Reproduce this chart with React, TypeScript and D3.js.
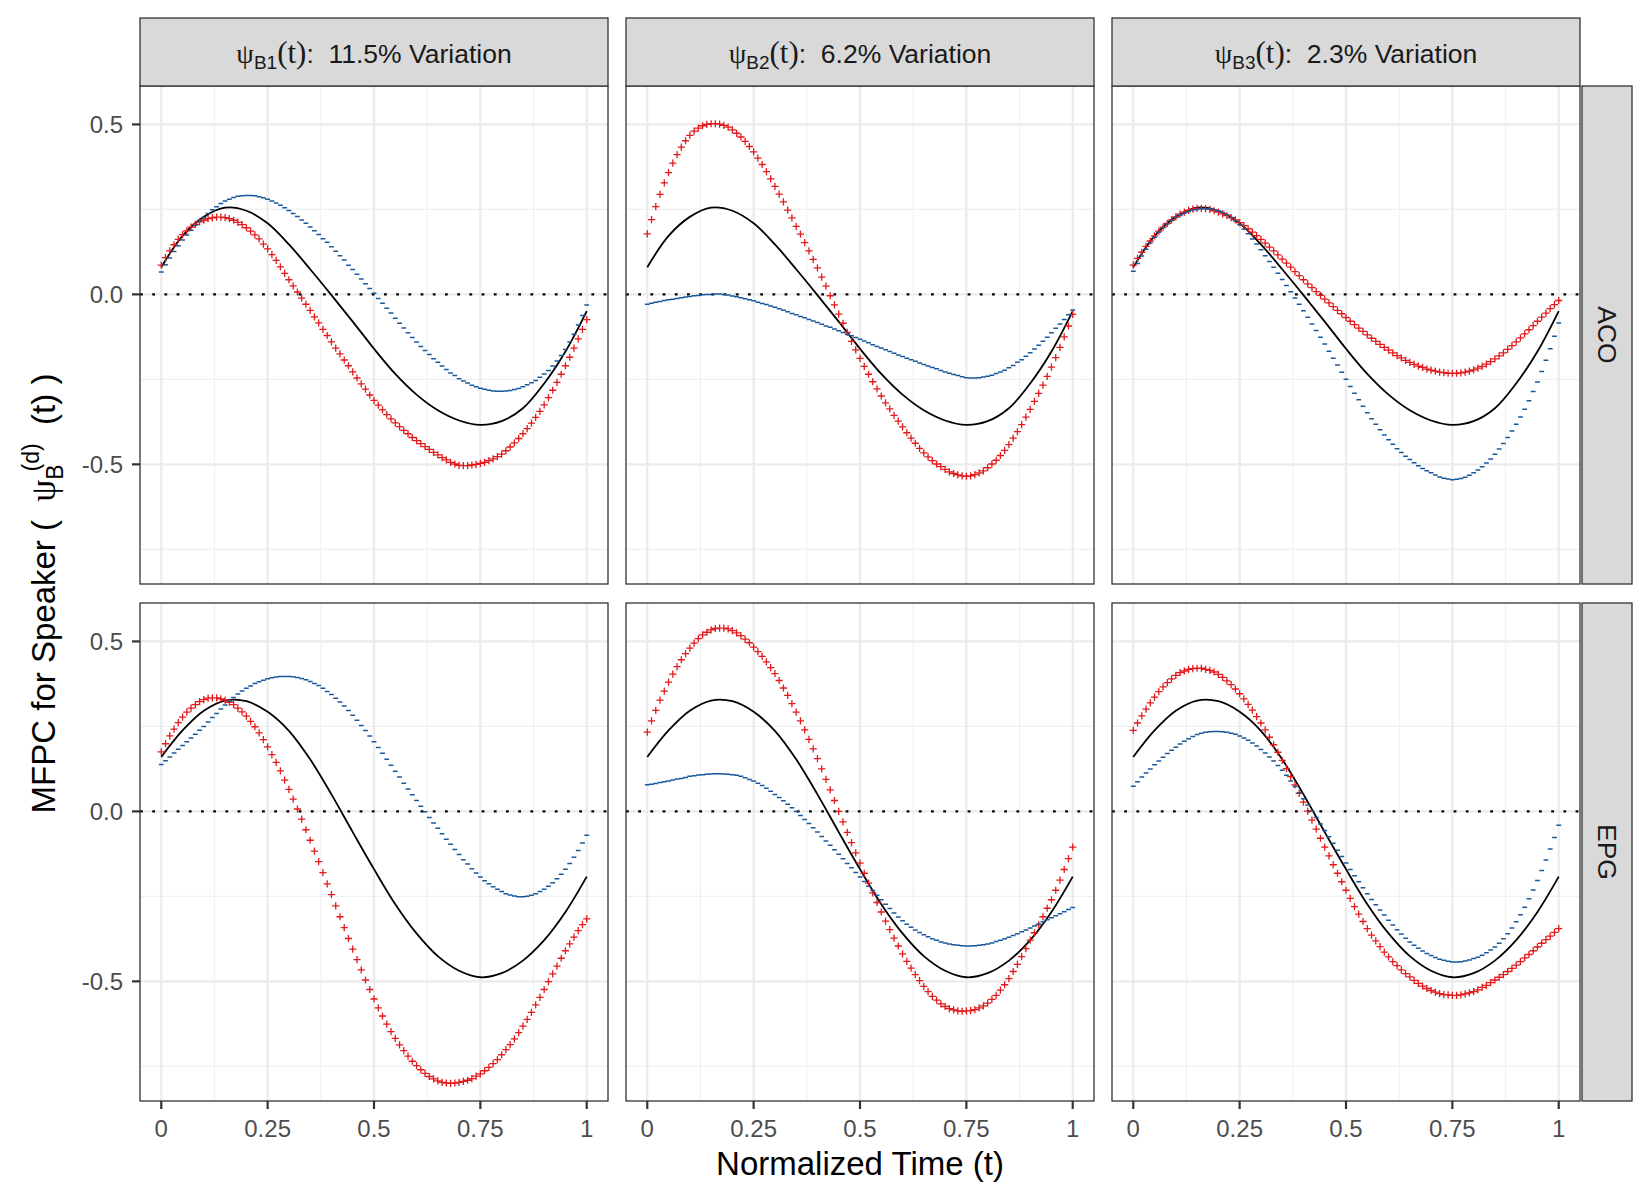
import React from 'react';
import * as d3 from 'd3';

// evaluation grids of the functions (101 points for the +/- curves, 21 knots for the mean)
const T101 = d3.range(101).map((i) => i / 100);
const T21 = d3.range(21).map((i) => i / 20);

// mean curves (black), one per row
const ACO_MEAN = [0.080, 0.172, 0.228, 0.255, 0.246, 0.209, 0.147, 0.074, -0.002, -0.080, -0.160, -0.234, -0.295, -0.341, -0.371, -0.384, -0.373, -0.335, -0.262, -0.168, -0.049];
const EPG_MEAN = [0.160, 0.238, 0.296, 0.326, 0.324, 0.293, 0.237, 0.153, 0.050, -0.061, -0.170, -0.273, -0.359, -0.426, -0.469, -0.488, -0.476, -0.439, -0.379, -0.296, -0.192];

// mean + component (red "+")
const ACO_B1_PLUS = [
  0.086, 0.108, 0.128, 0.146, 0.162, 0.176, 0.187, 0.198, 0.206, 0.213,
  0.218, 0.223, 0.225, 0.227, 0.227, 0.226, 0.223, 0.218, 0.212, 0.205,
  0.196, 0.186, 0.175, 0.163, 0.148, 0.134, 0.117, 0.100, 0.081, 0.062,
  0.043, 0.025, 0.007, -0.011, -0.029, -0.047, -0.066, -0.084, -0.103, -0.121,
  -0.140, -0.158, -0.175, -0.193, -0.210, -0.228, -0.246, -0.263, -0.279, -0.296,
  -0.312, -0.326, -0.340, -0.354, -0.366, -0.378, -0.389, -0.400, -0.410, -0.421,
  -0.430, -0.439, -0.448, -0.456, -0.465, -0.472, -0.480, -0.487, -0.494, -0.499,
  -0.503, -0.504, -0.504, -0.502, -0.500, -0.497, -0.494, -0.489, -0.484, -0.477,
  -0.470, -0.460, -0.449, -0.437, -0.424, -0.410, -0.395, -0.379, -0.362, -0.344,
  -0.325, -0.304, -0.282, -0.259, -0.235, -0.210, -0.185, -0.158, -0.131, -0.103,
  -0.074,
];
const ACO_B2_PLUS = [
  0.178, 0.220, 0.258, 0.294, 0.328, 0.358, 0.386, 0.411, 0.433, 0.452,
  0.468, 0.480, 0.489, 0.496, 0.500, 0.502, 0.502, 0.501, 0.497, 0.492,
  0.484, 0.474, 0.463, 0.450, 0.435, 0.419, 0.401, 0.382, 0.361, 0.340,
  0.318, 0.295, 0.272, 0.248, 0.225, 0.200, 0.177, 0.152, 0.128, 0.103,
  0.078, 0.051, 0.024, -0.004, -0.031, -0.058, -0.085, -0.112, -0.138, -0.163,
  -0.188, -0.212, -0.235, -0.257, -0.278, -0.299, -0.319, -0.337, -0.356, -0.373,
  -0.390, -0.407, -0.423, -0.438, -0.453, -0.466, -0.478, -0.489, -0.499, -0.507,
  -0.515, -0.522, -0.527, -0.531, -0.534, -0.535, -0.534, -0.530, -0.525, -0.519,
  -0.510, -0.499, -0.488, -0.474, -0.459, -0.442, -0.423, -0.404, -0.383, -0.361,
  -0.338, -0.315, -0.291, -0.267, -0.241, -0.214, -0.186, -0.156, -0.125, -0.093,
  -0.059,
];
const ACO_B3_PLUS = [
  0.086, 0.106, 0.124, 0.141, 0.157, 0.172, 0.186, 0.198, 0.209, 0.219,
  0.228, 0.236, 0.242, 0.247, 0.251, 0.253, 0.253, 0.252, 0.250, 0.246,
  0.242, 0.237, 0.232, 0.226, 0.219, 0.211, 0.202, 0.193, 0.183, 0.173,
  0.162, 0.151, 0.139, 0.128, 0.116, 0.104, 0.092, 0.080, 0.067, 0.055,
  0.043, 0.031, 0.020, 0.008, -0.003, -0.014, -0.025, -0.036, -0.047, -0.057,
  -0.068, -0.079, -0.089, -0.099, -0.109, -0.119, -0.129, -0.138, -0.147, -0.156,
  -0.164, -0.172, -0.180, -0.187, -0.194, -0.200, -0.206, -0.211, -0.215, -0.220,
  -0.223, -0.226, -0.229, -0.230, -0.232, -0.232, -0.232, -0.231, -0.229, -0.226,
  -0.222, -0.217, -0.212, -0.205, -0.198, -0.190, -0.181, -0.172, -0.162, -0.151,
  -0.140, -0.128, -0.116, -0.104, -0.092, -0.079, -0.067, -0.055, -0.042, -0.030,
  -0.018,
];
const EPG_B1_PLUS = [
  0.175, 0.199, 0.222, 0.242, 0.261, 0.277, 0.292, 0.304, 0.314, 0.323,
  0.329, 0.333, 0.334, 0.334, 0.331, 0.327, 0.321, 0.314, 0.304, 0.293,
  0.280, 0.265, 0.249, 0.231, 0.211, 0.190, 0.167, 0.144, 0.119, 0.092,
  0.065, 0.036, 0.007, -0.023, -0.054, -0.085, -0.117, -0.148, -0.180, -0.213,
  -0.245, -0.278, -0.310, -0.342, -0.374, -0.405, -0.436, -0.466, -0.496, -0.524,
  -0.552, -0.578, -0.602, -0.626, -0.648, -0.668, -0.687, -0.704, -0.720, -0.735,
  -0.748, -0.760, -0.771, -0.780, -0.787, -0.793, -0.797, -0.799, -0.800, -0.799,
  -0.797, -0.794, -0.791, -0.786, -0.779, -0.772, -0.763, -0.753, -0.742, -0.730,
  -0.716, -0.701, -0.686, -0.669, -0.651, -0.632, -0.612, -0.591, -0.569, -0.547,
  -0.524, -0.501, -0.478, -0.455, -0.432, -0.410, -0.390, -0.370, -0.351, -0.333,
  -0.316,
];
const EPG_B2_PLUS = [
  0.233, 0.266, 0.297, 0.327, 0.354, 0.380, 0.404, 0.426, 0.446, 0.464,
  0.480, 0.495, 0.508, 0.519, 0.527, 0.534, 0.538, 0.539, 0.539, 0.537,
  0.532, 0.525, 0.517, 0.507, 0.496, 0.483, 0.470, 0.456, 0.440, 0.423,
  0.405, 0.385, 0.363, 0.341, 0.317, 0.292, 0.266, 0.240, 0.212, 0.184,
  0.155, 0.125, 0.094, 0.063, 0.032, 0.000, -0.031, -0.062, -0.092, -0.122,
  -0.152, -0.182, -0.211, -0.240, -0.268, -0.296, -0.323, -0.348, -0.373, -0.396,
  -0.419, -0.441, -0.461, -0.480, -0.498, -0.515, -0.530, -0.544, -0.555, -0.566,
  -0.574, -0.580, -0.584, -0.587, -0.588, -0.587, -0.586, -0.583, -0.578, -0.572,
  -0.564, -0.553, -0.541, -0.526, -0.510, -0.492, -0.471, -0.450, -0.427, -0.404,
  -0.379, -0.357, -0.334, -0.310, -0.285, -0.260, -0.232, -0.202, -0.171, -0.139,
  -0.105,
];
const EPG_B3_PLUS = [
  0.238, 0.260, 0.281, 0.301, 0.319, 0.336, 0.352, 0.366, 0.379, 0.390,
  0.400, 0.408, 0.413, 0.418, 0.420, 0.421, 0.421, 0.418, 0.415, 0.410,
  0.403, 0.394, 0.384, 0.373, 0.360, 0.346, 0.331, 0.315, 0.298, 0.279,
  0.260, 0.240, 0.218, 0.196, 0.174, 0.150, 0.126, 0.102, 0.078, 0.053,
  0.027, 0.001, -0.026, -0.052, -0.079, -0.105, -0.131, -0.157, -0.182, -0.207,
  -0.232, -0.256, -0.280, -0.302, -0.324, -0.345, -0.364, -0.381, -0.398, -0.414,
  -0.428, -0.442, -0.454, -0.466, -0.477, -0.487, -0.497, -0.506, -0.514, -0.521,
  -0.527, -0.532, -0.536, -0.539, -0.540, -0.541, -0.541, -0.540, -0.537, -0.534,
  -0.530, -0.525, -0.518, -0.512, -0.504, -0.496, -0.488, -0.480, -0.471, -0.462,
  -0.452, -0.442, -0.431, -0.421, -0.410, -0.399, -0.388, -0.377, -0.367, -0.356,
  -0.345,
];

// mean - component (blue "-")
const ACO_B1_MINUS = [
  0.066, 0.087, 0.107, 0.126, 0.143, 0.160, 0.175, 0.189, 0.203, 0.215,
  0.226, 0.238, 0.249, 0.258, 0.267, 0.275, 0.280, 0.285, 0.289, 0.290,
  0.291, 0.291, 0.290, 0.287, 0.284, 0.280, 0.275, 0.269, 0.262, 0.255,
  0.247, 0.238, 0.229, 0.219, 0.209, 0.198, 0.187, 0.176, 0.164, 0.153,
  0.140, 0.127, 0.114, 0.101, 0.086, 0.073, 0.059, 0.045, 0.031, 0.017,
  0.003, -0.012, -0.026, -0.041, -0.055, -0.070, -0.085, -0.099, -0.113, -0.127,
  -0.140, -0.153, -0.165, -0.177, -0.189, -0.200, -0.211, -0.221, -0.231, -0.239,
  -0.248, -0.255, -0.261, -0.267, -0.272, -0.276, -0.279, -0.282, -0.284, -0.285,
  -0.285, -0.284, -0.283, -0.280, -0.277, -0.272, -0.266, -0.260, -0.253, -0.244,
  -0.234, -0.224, -0.211, -0.196, -0.180, -0.162, -0.140, -0.117, -0.090, -0.062,
  -0.031,
];
const ACO_B2_MINUS = [
  -0.029, -0.026, -0.023, -0.021, -0.018, -0.016, -0.014, -0.012, -0.010, -0.008,
  -0.006, -0.004, -0.003, -0.001, 0.000, 0.000, 0.001, 0.001, 0.000, -0.002,
  -0.005, -0.007, -0.010, -0.013, -0.016, -0.019, -0.023, -0.027, -0.030, -0.034,
  -0.038, -0.042, -0.047, -0.051, -0.056, -0.060, -0.065, -0.069, -0.074, -0.078,
  -0.083, -0.088, -0.093, -0.097, -0.102, -0.107, -0.112, -0.117, -0.122, -0.127,
  -0.132, -0.137, -0.142, -0.148, -0.153, -0.158, -0.163, -0.168, -0.173, -0.178,
  -0.183, -0.188, -0.192, -0.197, -0.202, -0.206, -0.211, -0.215, -0.219, -0.224,
  -0.228, -0.232, -0.236, -0.239, -0.242, -0.245, -0.246, -0.246, -0.245, -0.243,
  -0.241, -0.238, -0.233, -0.228, -0.223, -0.216, -0.209, -0.200, -0.192, -0.182,
  -0.172, -0.161, -0.150, -0.138, -0.126, -0.113, -0.100, -0.087, -0.074, -0.060,
  -0.046,
];
const ACO_B3_MINUS = [
  0.068, 0.091, 0.113, 0.133, 0.151, 0.168, 0.183, 0.196, 0.207, 0.217,
  0.226, 0.233, 0.239, 0.244, 0.248, 0.250, 0.252, 0.252, 0.252, 0.249,
  0.246, 0.241, 0.234, 0.226, 0.216, 0.205, 0.192, 0.178, 0.163, 0.148,
  0.131, 0.114, 0.097, 0.080, 0.062, 0.044, 0.026, 0.008, -0.011, -0.029,
  -0.048, -0.067, -0.087, -0.106, -0.126, -0.146, -0.167, -0.188, -0.208, -0.229,
  -0.250, -0.271, -0.291, -0.310, -0.329, -0.348, -0.366, -0.382, -0.398, -0.414,
  -0.428, -0.441, -0.454, -0.465, -0.476, -0.486, -0.495, -0.504, -0.512, -0.519,
  -0.525, -0.531, -0.537, -0.541, -0.543, -0.545, -0.544, -0.542, -0.538, -0.532,
  -0.525, -0.517, -0.507, -0.496, -0.484, -0.470, -0.455, -0.439, -0.421, -0.402,
  -0.382, -0.361, -0.338, -0.313, -0.286, -0.258, -0.227, -0.194, -0.160, -0.123,
  -0.084,
];
const EPG_B1_MINUS = [
  0.138, 0.149, 0.160, 0.172, 0.183, 0.194, 0.205, 0.216, 0.227, 0.239,
  0.250, 0.263, 0.276, 0.288, 0.301, 0.313, 0.324, 0.335, 0.345, 0.354,
  0.362, 0.369, 0.376, 0.381, 0.386, 0.390, 0.393, 0.395, 0.397, 0.397,
  0.397, 0.396, 0.394, 0.391, 0.387, 0.382, 0.376, 0.370, 0.362, 0.353,
  0.344, 0.333, 0.322, 0.310, 0.297, 0.283, 0.268, 0.253, 0.238, 0.222,
  0.205, 0.188, 0.171, 0.153, 0.136, 0.118, 0.101, 0.083, 0.066, 0.049,
  0.032, 0.015, -0.001, -0.018, -0.034, -0.050, -0.066, -0.082, -0.097, -0.112,
  -0.127, -0.142, -0.155, -0.169, -0.181, -0.193, -0.204, -0.213, -0.222, -0.229,
  -0.236, -0.242, -0.246, -0.249, -0.251, -0.251, -0.250, -0.247, -0.242, -0.236,
  -0.229, -0.220, -0.210, -0.198, -0.185, -0.170, -0.153, -0.135, -0.115, -0.093,
  -0.070,
];
const EPG_B2_MINUS = [
  0.078, 0.080, 0.082, 0.085, 0.087, 0.089, 0.092, 0.095, 0.097, 0.100,
  0.103, 0.105, 0.107, 0.108, 0.109, 0.110, 0.111, 0.111, 0.110, 0.109,
  0.108, 0.106, 0.103, 0.099, 0.094, 0.089, 0.083, 0.076, 0.068, 0.059,
  0.050, 0.041, 0.031, 0.021, 0.011, 0.000, -0.012, -0.024, -0.036, -0.048,
  -0.061, -0.074, -0.087, -0.100, -0.113, -0.126, -0.139, -0.153, -0.166, -0.180,
  -0.193, -0.206, -0.220, -0.233, -0.247, -0.260, -0.273, -0.286, -0.299, -0.311,
  -0.322, -0.332, -0.341, -0.349, -0.356, -0.363, -0.369, -0.375, -0.379, -0.384,
  -0.387, -0.390, -0.392, -0.394, -0.395, -0.396, -0.396, -0.395, -0.394, -0.392,
  -0.390, -0.387, -0.383, -0.379, -0.375, -0.370, -0.365, -0.360, -0.354, -0.349,
  -0.343, -0.337, -0.331, -0.325, -0.319, -0.313, -0.307, -0.301, -0.295, -0.289,
  -0.283,
];
const EPG_B3_MINUS = [
  0.074, 0.087, 0.101, 0.113, 0.125, 0.137, 0.148, 0.159, 0.170, 0.180,
  0.189, 0.198, 0.206, 0.214, 0.220, 0.226, 0.230, 0.233, 0.234, 0.235,
  0.235, 0.234, 0.233, 0.230, 0.227, 0.222, 0.216, 0.209, 0.201, 0.192,
  0.182, 0.172, 0.160, 0.148, 0.135, 0.121, 0.106, 0.089, 0.073, 0.055,
  0.037, 0.019, 0.001, -0.018, -0.037, -0.056, -0.075, -0.094, -0.114, -0.133,
  -0.152, -0.171, -0.189, -0.207, -0.225, -0.242, -0.259, -0.275, -0.290, -0.305,
  -0.320, -0.334, -0.348, -0.361, -0.373, -0.384, -0.394, -0.403, -0.411, -0.418,
  -0.424, -0.430, -0.435, -0.438, -0.441, -0.443, -0.443, -0.442, -0.440, -0.437,
  -0.433, -0.429, -0.423, -0.416, -0.408, -0.399, -0.388, -0.375, -0.360, -0.343,
  -0.325, -0.304, -0.282, -0.257, -0.231, -0.203, -0.174, -0.143, -0.111, -0.077,
  -0.041,
];

const COL_SUBS = ['B1', 'B2', 'B3'];
const COL_PCTS = ['11.5%', '6.2%', '2.3%'];
const ROW_LABELS = ['ACO', 'EPG'];

const X_TICKS = [0, 0.25, 0.5, 0.75, 1];
const X_TICK_LABELS = ['0', '0.25', '0.5', '0.75', '1'];
const X_MINOR = [0.125, 0.375, 0.625, 0.875];
const Y_TICKS = [-0.5, 0, 0.5];
const Y_TICK_LABELS = ['-0.5', '0.0', '0.5'];
const Y_MINOR = [-0.75, -0.25, 0.25];

const PANELS = [
  { row: 0, col: 0, mean: ACO_MEAN, plus: ACO_B1_PLUS, minus: ACO_B1_MINUS },
  { row: 0, col: 1, mean: ACO_MEAN, plus: ACO_B2_PLUS, minus: ACO_B2_MINUS },
  { row: 0, col: 2, mean: ACO_MEAN, plus: ACO_B3_PLUS, minus: ACO_B3_MINUS },
  { row: 1, col: 0, mean: EPG_MEAN, plus: EPG_B1_PLUS, minus: EPG_B1_MINUS },
  { row: 1, col: 1, mean: EPG_MEAN, plus: EPG_B2_PLUS, minus: EPG_B2_MINUS },
  { row: 1, col: 2, mean: EPG_MEAN, plus: EPG_B3_PLUS, minus: EPG_B3_MINUS },
];

// layout
const WIDTH = 1650;
const HEIGHT = 1200;
const PANEL_W = 468;
const PANEL_H = 498;
const COL_X = [140, 626, 1112];
const ROW_Y = [86, 603];
const STRIP_TOP = 18;
const STRIP_RIGHT_X = 1582;
const STRIP_RIGHT_W = 50;

const SANS = '"Liberation Sans", Arial, Helvetica, sans-serif';
const SERIF = '"Liberation Serif", "DejaVu Serif", serif';
const BORDER = '#333333';
const RED = '#E31A1C';
const BLUE = '#17599C';

const x = d3.scaleLinear().domain([-0.05, 1.05]).range([0, PANEL_W]);
const y = d3.scaleLinear().domain([-0.852, 0.613]).range([PANEL_H, 0]);

const meanLine = d3
  .line<number>()
  .x((_, i) => x(T21[i]))
  .y((d) => y(d))
  .curve(d3.curveCatmullRom.alpha(0.5));

const plusPath = (vals: number[]) =>
  vals
    .map((v, i) => {
      const px = x(T101[i]);
      const py = y(v);
      return `M${px - 3.6},${py}h7.2M${px},${py - 3.6}v7.2`;
    })
    .join('');

const minusPath = (vals: number[]) =>
  vals.map((v, i) => `M${x(T101[i]) - 2.4},${y(v)}h4.8`).join('');

const Panel: React.FC<{ p: (typeof PANELS)[0] }> = ({ p }) => {
  const ox = COL_X[p.col];
  const oy = ROW_Y[p.row];
  return (
    <g transform={`translate(${ox},${oy})`}>
      <rect width={PANEL_W} height={PANEL_H} fill="#fff" />
      {/* minor grid */}
      {X_MINOR.map((t) => (
        <line key={`xm${t}`} x1={x(t)} x2={x(t)} y1={0} y2={PANEL_H} stroke="#F0F0F0" strokeWidth={1.1} />
      ))}
      {Y_MINOR.map((v) => (
        <line key={`ym${v}`} x1={0} x2={PANEL_W} y1={y(v)} y2={y(v)} stroke="#F0F0F0" strokeWidth={1.1} />
      ))}
      {/* major grid */}
      {X_TICKS.map((t) => (
        <line key={`xg${t}`} x1={x(t)} x2={x(t)} y1={0} y2={PANEL_H} stroke="#EBEBEB" strokeWidth={2.2} />
      ))}
      {Y_TICKS.map((v) => (
        <line key={`yg${v}`} x1={0} x2={PANEL_W} y1={y(v)} y2={y(v)} stroke="#EBEBEB" strokeWidth={2.2} />
      ))}
      {/* zero reference */}
      <line x1={0} x2={PANEL_W} y1={y(0)} y2={y(0)} stroke="#000" strokeWidth={2.2} strokeDasharray="2.8 9.4" />
      {/* mean */}
      <path d={meanLine(p.mean) || ''} fill="none" stroke="#000" strokeWidth={1.8} />
      {/* mean + pc */}
      <path d={plusPath(p.plus)} fill="none" stroke={RED} strokeWidth={1.3} />
      {/* mean - pc */}
      <path d={minusPath(p.minus)} fill="none" stroke={BLUE} strokeWidth={1.5} />
      <rect width={PANEL_W} height={PANEL_H} fill="none" stroke={BORDER} strokeWidth={1.3} />
    </g>
  );
};

const App: React.FC = () => {
  const midX = (COL_X[0] + COL_X[2] + PANEL_W) / 2;
  const midY = (ROW_Y[0] + ROW_Y[1] + PANEL_H) / 2;
  return (
    <div style={{ position: 'absolute', left: 0, top: 0, width: WIDTH, height: HEIGHT, background: '#fff' }}>
      <svg width={WIDTH} height={HEIGHT} fontFamily={SANS}>
        <rect width={WIDTH} height={HEIGHT} fill="#fff" />

        {PANELS.map((p) => (
          <Panel key={`${p.row}-${p.col}`} p={p} />
        ))}

        {/* top strips */}
        {COL_X.map((cx, i) => (
          <g key={`strip${i}`}>
            <rect x={cx} y={STRIP_TOP} width={PANEL_W} height={ROW_Y[0] - STRIP_TOP} fill="#D9D9D9" stroke={BORDER} strokeWidth={1.3} />
            <text x={cx + PANEL_W / 2} y={63} textAnchor="middle" fontSize={26.5} fill="#1A1A1A" style={{ whiteSpace: 'pre' }}>
              <tspan fontFamily={SERIF} fontSize={28}>ψ</tspan>
              <tspan fontSize={19} dy={6}>{COL_SUBS[i]}</tspan>
              <tspan fontFamily={SERIF} fontSize={31} dy={-6}>(t)</tspan>
              <tspan>{`:  ${COL_PCTS[i]} Variation`}</tspan>
            </text>
          </g>
        ))}

        {/* right strips */}
        {ROW_Y.map((ry, i) => (
          <g key={`rstrip${i}`}>
            <rect x={STRIP_RIGHT_X} y={ry} width={STRIP_RIGHT_W} height={PANEL_H} fill="#D9D9D9" stroke={BORDER} strokeWidth={1.3} />
            <text
              transform={`translate(${STRIP_RIGHT_X + STRIP_RIGHT_W / 2 - 9.5},${ry + PANEL_H / 2}) rotate(90)`}
              textAnchor="middle"
              fontSize={26.5}
              fill="#1A1A1A"
            >
              {ROW_LABELS[i]}
            </text>
          </g>
        ))}

        {/* y axis */}
        {ROW_Y.map((ry, r) => (
          <g key={`yax${r}`}>
            {Y_TICKS.map((v, j) => (
              <g key={v}>
                <line x1={COL_X[0] - 8} x2={COL_X[0]} y1={ry + y(v)} y2={ry + y(v)} stroke={BORDER} strokeWidth={2.2} />
                <text x={COL_X[0] - 17} y={ry + y(v) + 8.6} textAnchor="end" fontSize={24} fill="#4D4D4D">
                  {Y_TICK_LABELS[j]}
                </text>
              </g>
            ))}
          </g>
        ))}

        {/* x axis */}
        {COL_X.map((cx, c) => (
          <g key={`xax${c}`}>
            {X_TICKS.map((t, j) => (
              <g key={t}>
                <line
                  x1={cx + x(t)}
                  x2={cx + x(t)}
                  y1={ROW_Y[1] + PANEL_H}
                  y2={ROW_Y[1] + PANEL_H + 8}
                  stroke={BORDER}
                  strokeWidth={2.2}
                />
                <text x={cx + x(t)} y={1137} textAnchor="middle" fontSize={24} fill="#4D4D4D">
                  {X_TICK_LABELS[j]}
                </text>
              </g>
            ))}
          </g>
        ))}

        {/* axis titles */}
        <text x={midX} y={1175} textAnchor="middle" fontSize={33} fill="#000">
          Normalized Time (t)
        </text>
        <text transform={`translate(55,${midY}) rotate(-90)`} textAnchor="middle" fontSize={33} fill="#000" style={{ whiteSpace: 'pre' }}>
          <tspan>{'MFPC for Speaker (  '}</tspan>
          <tspan fontFamily={SERIF} fontSize={35}>ψ</tspan>
          <tspan fontSize={23} dy={8}>B</tspan>
          <tspan fontSize={23} dx={-7} dy={-24}>(d)</tspan>
          <tspan dy={16}>{'  (t) )'}</tspan>
        </text>
      </svg>
    </div>
  );
};

export default App;
